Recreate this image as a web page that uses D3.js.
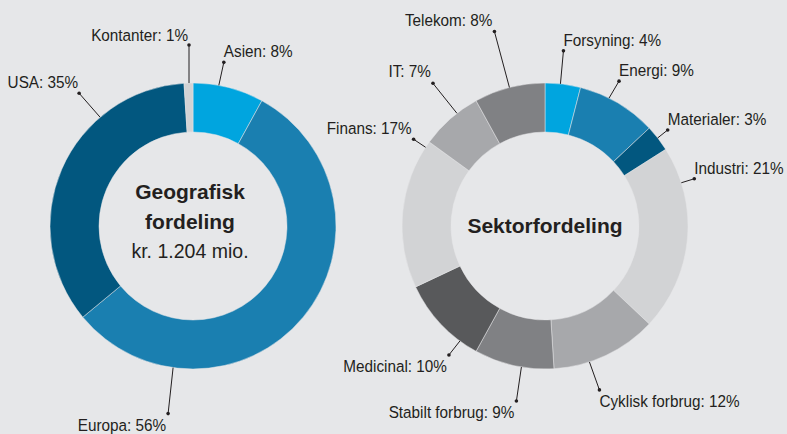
<!DOCTYPE html>
<html>
<head>
<meta charset="utf-8">
<script src="https://cdn.jsdelivr.net/npm/d3@7/dist/d3.min.js"></script>
<style>
  html, body { margin: 0; padding: 0; background: #e6e7e9; }
  svg { display: block; }
  text { font-family: "Liberation Sans", Arial, sans-serif; fill: #231f20; }
</style>
</head>
<body>
<svg id="chart" width="787" height="434"></svg>
<script>
// Geographic split of the portfolio (percent)
const geoCategories = ["Asien", "Europa", "USA", "Kontanter"];
const geoValues = [8, 56, 35, 1];
const geoColors = ["#00a5df", "#1a7fb0", "#02577f", "#d2d3d5"];

// Sector split of the portfolio (percent)
const sectorCategories = ["Forsyning", "Energi", "Materialer", "Industri", "Cyklisk forbrug",
  "Stabilt forbrug", "Medicinal", "Finans", "IT", "Telekom"];
const sectorValues = [4, 9, 3, 21, 12, 9, 10, 17, 7, 8];
const sectorColors = ["#00a5df", "#1a7fb0", "#02577f", "#d2d3d5", "#a7a8ab",
  "#808184", "#58595b", "#d2d3d5", "#a7a8ab", "#808184"];

// Leader-line layout: angle on the ring (deg), dot offset from the ring, text anchor, text baseline offset
const geoLabelLayout = {
  "Asien":     { a: 10.4,  dx: 5,   dy: -23, anchor: "start", tdx: 0,  tdy: -5 },
  "Europa":    { a: 188,   dx: -5,  dy: 46,  anchor: "end",   tdx: -2, tdy: 17 },
  "USA":       { a: 319.5, dx: -21, dy: -24, anchor: "end",   tdx: -1, tdy: -5 },
  "Kontanter": { a: 358.4, dx: 0,   dy: -38, anchor: "end",   tdx: -1, tdy: -4 }
};
const sectorLabelLayout = {
  "Forsyning":       { a: 6.2,   dx: 3,   dy: -33, anchor: "start", tdx: 0,  tdy: -5 },
  "Energi":          { a: 26.6,  dx: 10,  dy: -17, anchor: "start", tdx: 0,  tdy: -5.5 },
  "Materialer":      { a: 52,    dx: 10,  dy: -8,  anchor: "start", tdx: 0,  tdy: -5 },
  "Industri":        { a: 72.4,  dx: 13,  dy: -4,  anchor: "start", tdx: 0,  tdy: -5 },
  "Cyklisk forbrug": { a: 161.9, dx: 10,  dy: 28,  anchor: "start", tdx: 0,  tdy: 17 },
  "Stabilt forbrug": { a: 189.5, dx: -5,  dy: 34,  anchor: "end",   tdx: -2, tdy: 17 },
  "Medicinal":       { a: 216.5, dx: -11, dy: 14,  anchor: "end",   tdx: -2, tdy: 17 },
  "Finans":          { a: 303.4, dx: -12, dy: -8,  anchor: "end",   tdx: -2, tdy: -5.5 },
  "IT":              { a: 322,   dx: -24, dy: -30, anchor: "end",   tdx: -2, tdy: -6 },
  "Telekom":         { a: 345.6, dx: -15, dy: -56, anchor: "end",   tdx: -2, tdy: -5 }
};

const svg = d3.select("#chart");
const outerR = 143, innerR = 94;

function donut(cx, cy, categories, values, colors, layout) {
  const rows = categories.map((c, i) => ({ cat: c, value: values[i], color: colors[i] }));
  const pie = d3.pie().sort(null).value(d => d.value);
  const arc = d3.arc().innerRadius(innerR).outerRadius(outerR);
  const g = svg.append("g").attr("transform", `translate(${cx},${cy})`);

  g.selectAll("path.slice").data(pie(rows)).join("path")
    .attr("class", "slice")
    .attr("d", arc)
    .attr("fill", d => d.data.color)
    .attr("stroke", "#e6e7e9")
    .attr("stroke-width", 0.5);

  const lab = g.selectAll("g.lab").data(rows).join("g").attr("class", "lab");
  lab.each(function (d) {
    const L = layout[d.cat];
    const ang = L.a * Math.PI / 180;
    const x0 = Math.sin(ang) * outerR, y0 = -Math.cos(ang) * outerR;
    const x1 = x0 + L.dx, y1 = y0 + L.dy;
    const s = d3.select(this);
    s.append("line").attr("x1", x0).attr("y1", y0).attr("x2", x1).attr("y2", y1)
      .attr("stroke", "#231f20").attr("stroke-width", 1);
    s.append("circle").attr("cx", x1).attr("cy", y1).attr("r", 1.8).attr("fill", "#231f20");
    s.append("text")
      .attr("transform", `translate(${x1 + L.tdx},${y1 + L.tdy}) scale(0.9,1)`)
      .attr("text-anchor", L.anchor)
      .style("font-size", "17px")
      .text(`${d.cat}: ${d.value}%`);
  });
  return g;
}

const left = donut(193, 226, geoCategories, geoValues, geoColors, geoLabelLayout);
left.append("text").attr("x", -3).attr("y", -27).attr("text-anchor", "middle")
  .style("font-size", "21px").style("font-weight", "bold").text("Geografisk");
left.append("text").attr("x", -3).attr("y", 3).attr("text-anchor", "middle")
  .style("font-size", "21px").style("font-weight", "bold").text("fordeling");
left.append("text").attr("transform", "translate(-3,32) scale(0.93,1)").attr("text-anchor", "middle")
  .style("font-size", "21px").text("kr. 1.204 mio.");

const right = donut(545, 226, sectorCategories, sectorValues, sectorColors, sectorLabelLayout);
right.append("text").attr("x", 0).attr("y", 7).attr("text-anchor", "middle")
  .style("font-size", "21px").style("font-weight", "bold").text("Sektorfordeling");
</script>
</body>
</html>
